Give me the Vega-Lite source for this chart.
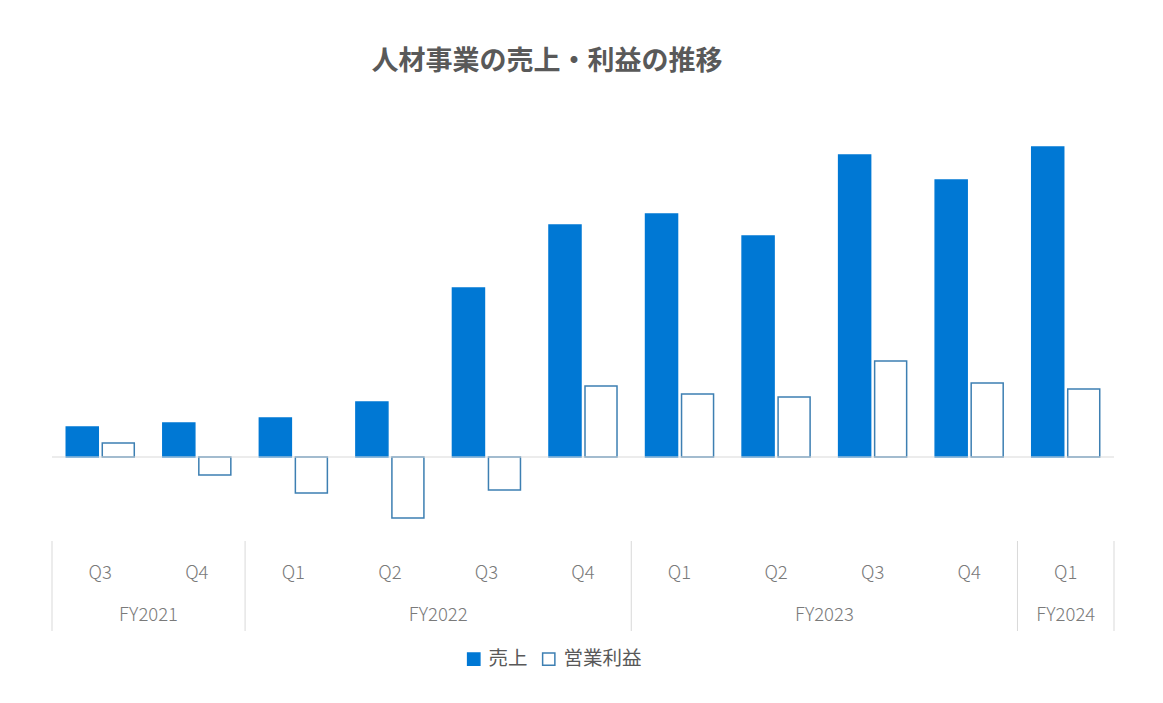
{
  "$schema": "https://vega.github.io/schema/vega-lite/v6.json",
  "background": "white",
  "padding": {"left": 51, "top": 48, "right": 50, "bottom": 30},
  "title": {
    "text": "人材事業の売上・利益の推移",
    "font": "Noto Sans CJK JP",
    "fontSize": 27,
    "fontWeight": "bold",
    "color": "#595959",
    "anchor": "middle",
    "dx": -36,
    "offset": 24
  },
  "datasets": {
    "main": [
      {"fy": "FY2021", "q": "Q3", "key": "FY2021 Q3", "series": "売上", "value": 30},
      {"fy": "FY2021", "q": "Q3", "key": "FY2021 Q3", "series": "営業利益", "value": 14},
      {"fy": "FY2021", "q": "Q4", "key": "FY2021 Q4", "series": "売上", "value": 34},
      {"fy": "FY2021", "q": "Q4", "key": "FY2021 Q4", "series": "営業利益", "value": -18},
      {"fy": "FY2022", "q": "Q1", "key": "FY2022 Q1", "series": "売上", "value": 39},
      {"fy": "FY2022", "q": "Q1", "key": "FY2022 Q1", "series": "営業利益", "value": -36},
      {"fy": "FY2022", "q": "Q2", "key": "FY2022 Q2", "series": "売上", "value": 55},
      {"fy": "FY2022", "q": "Q2", "key": "FY2022 Q2", "series": "営業利益", "value": -61},
      {"fy": "FY2022", "q": "Q3", "key": "FY2022 Q3", "series": "売上", "value": 169},
      {"fy": "FY2022", "q": "Q3", "key": "FY2022 Q3", "series": "営業利益", "value": -33},
      {"fy": "FY2022", "q": "Q4", "key": "FY2022 Q4", "series": "売上", "value": 232},
      {"fy": "FY2022", "q": "Q4", "key": "FY2022 Q4", "series": "営業利益", "value": 71},
      {"fy": "FY2023", "q": "Q1", "key": "FY2023 Q1", "series": "売上", "value": 243},
      {"fy": "FY2023", "q": "Q1", "key": "FY2023 Q1", "series": "営業利益", "value": 63},
      {"fy": "FY2023", "q": "Q2", "key": "FY2023 Q2", "series": "売上", "value": 221},
      {"fy": "FY2023", "q": "Q2", "key": "FY2023 Q2", "series": "営業利益", "value": 60},
      {"fy": "FY2023", "q": "Q3", "key": "FY2023 Q3", "series": "売上", "value": 302},
      {"fy": "FY2023", "q": "Q3", "key": "FY2023 Q3", "series": "営業利益", "value": 96},
      {"fy": "FY2023", "q": "Q4", "key": "FY2023 Q4", "series": "売上", "value": 277},
      {"fy": "FY2023", "q": "Q4", "key": "FY2023 Q4", "series": "営業利益", "value": 74},
      {"fy": "FY2024", "q": "Q1", "key": "FY2024 Q1", "series": "売上", "value": 310},
      {"fy": "FY2024", "q": "Q1", "key": "FY2024 Q1", "series": "営業利益", "value": 68}
    ],
    "fy": [
      {"fy": "FY2021", "key": "FY2021 Q4", "span": "even"},
      {"fy": "FY2022", "key": "FY2022 Q3", "span": "even"},
      {"fy": "FY2023", "key": "FY2023 Q3", "span": "even"},
      {"fy": "FY2024", "key": "FY2024 Q1", "span": "odd"}
    ],
    "sep": [
      {"key": "FY2021 Q3", "edge": "start"},
      {"key": "FY2022 Q1", "edge": "start"},
      {"key": "FY2023 Q1", "edge": "start"},
      {"key": "FY2024 Q1", "edge": "start"},
      {"key": "FY2024 Q1", "edge": "end"}
    ]
  },
  "spacing": 0,
  "resolve": {
    "scale": {"x": "shared", "y": "independent", "fill": "shared", "stroke": "shared"},
    "legend": {"fill": "shared", "stroke": "shared"}
  },
  "vconcat": [
    {
      "width": 1062,
      "height": 440,
      "layer": [
        {
          "data": {"name": "main"},
          "mark": {"type": "bar", "strokeWidth": 1.5},
          "encoding": {
            "x": {
              "field": "key",
              "type": "nominal",
              "sort": null,
              "axis": null,
              "scale": {
                "domain": ["FY2021 Q3", "FY2021 Q4", "FY2022 Q1", "FY2022 Q2", "FY2022 Q3", "FY2022 Q4", "FY2023 Q1", "FY2023 Q2", "FY2023 Q3", "FY2023 Q4", "FY2024 Q1"],
                "paddingInner": 0,
                "paddingOuter": 0
              }
            },
            "xOffset": {
              "field": "series",
              "type": "nominal",
              "scale": {"domain": ["売上", "営業利益"], "paddingInner": 0.111, "paddingOuter": 0.396}
            },
            "y": {
              "field": "value",
              "type": "quantitative",
              "axis": null,
              "scale": {"domain": [-83, 357], "nice": false, "zero": false}
            },
            "fill": {
              "field": "series",
              "type": "nominal",
              "title": null,
              "scale": {"domain": ["売上", "営業利益"], "range": ["#0078d4", "#ffffff"]}
            },
            "stroke": {
              "field": "series",
              "type": "nominal",
              "title": null,
              "scale": {"domain": ["売上", "営業利益"], "range": ["#0078d4", "#3d7fb2"]}
            }
          }
        },
        {
          "data": {"values": [{}]},
          "mark": {"type": "rule", "color": "#d9d9d9", "strokeWidth": 1},
          "encoding": {"y": {"datum": 0, "type": "quantitative"}}
        }
      ]
    },
    {
      "width": 1062,
      "height": 90,
      "layer": [
        {
          "data": {"name": "sep"},
          "transform": [{"filter": "datum.edge === 'start'"}],
          "mark": {"type": "rule", "color": "#d9d9d9", "strokeWidth": 1},
          "encoding": {"x": {"field": "key", "type": "nominal", "sort": null, "bandPosition": 0, "axis": null}}
        },
        {
          "data": {"name": "sep"},
          "transform": [{"filter": "datum.edge === 'end'"}],
          "mark": {"type": "rule", "color": "#d9d9d9", "strokeWidth": 1},
          "encoding": {"x": {"field": "key", "type": "nominal", "sort": null, "bandPosition": 1, "axis": null}}
        },
        {
          "data": {"name": "main"},
          "transform": [{"filter": "datum.series === '売上'"}],
          "mark": {"type": "text", "font": "Noto Sans CJK JP", "fontWeight": 300, "fontSize": 18.5, "color": "#7a7a7a", "baseline": "middle"},
          "encoding": {
            "x": {"field": "key", "type": "nominal", "sort": null, "axis": null},
            "y": {"datum": "Q", "type": "nominal", "axis": null, "scale": {"type": "point", "domain": ["Q", "FY"], "padding": 0.571, "align": 0.667}},
            "text": {"field": "q"}
          }
        },
        {
          "data": {"name": "fy"},
          "transform": [{"filter": "datum.span === 'even'"}],
          "mark": {"type": "text", "font": "Noto Sans CJK JP", "fontWeight": 300, "fontSize": 18.5, "color": "#7a7a7a", "baseline": "middle"},
          "encoding": {
            "x": {"field": "key", "type": "nominal", "sort": null, "bandPosition": 0, "axis": null},
            "y": {"datum": "FY", "type": "nominal", "axis": null},
            "text": {"field": "fy"}
          }
        },
        {
          "data": {"name": "fy"},
          "transform": [{"filter": "datum.span === 'odd'"}],
          "mark": {"type": "text", "font": "Noto Sans CJK JP", "fontWeight": 300, "fontSize": 18.5, "color": "#7a7a7a", "baseline": "middle"},
          "encoding": {
            "x": {"field": "key", "type": "nominal", "sort": null, "bandPosition": 0.5, "axis": null},
            "y": {"datum": "FY", "type": "nominal", "axis": null},
            "text": {"field": "fy"}
          }
        }
      ]
    }
  ],
  "config": {
    "view": {"stroke": null},
    "legend": {
      "orient": "none",
      "legendX": 412,
      "legendY": 549,
      "direction": "horizontal",
      "symbolType": "square",
      "symbolSize": 150,
      "symbolStrokeWidth": 1.5,
      "labelFont": "Noto Sans CJK JP",
      "labelFontSize": 19.5,
      "labelColor": "#595959",
      "labelLimit": 300,
      "columnPadding": 11,
      "labelOffset": 5
    }
  }
}
